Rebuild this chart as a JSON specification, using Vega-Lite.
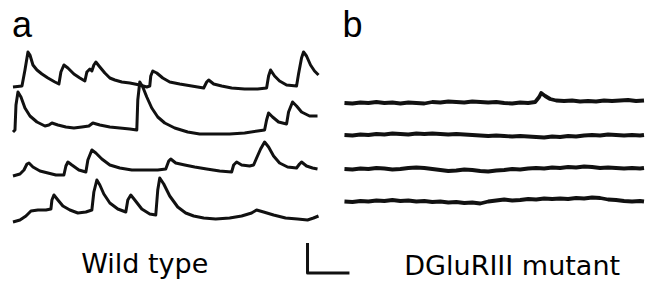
{
  "$schema": "https://vega.github.io/schema/vega-lite/v6.json",
  "width": 646,
  "height": 285,
  "autosize": {"type": "fit", "contains": "padding"},
  "padding": 0,
  "background": "white",
  "config": {"view": {"stroke": null}},
  "datasets": {
    "traces": [
      {"trace": "wt1", "t": 13, "v": 87}, {"trace": "wt1", "t": 22, "v": 86}, {"trace": "wt1", "t": 25, "v": 70}, {"trace": "wt1", "t": 28, "v": 52}, {"trace": "wt1", "t": 30, "v": 55}, {"trace": "wt1", "t": 33, "v": 65}, {"trace": "wt1", "t": 37, "v": 70}, {"trace": "wt1", "t": 42, "v": 74}, {"trace": "wt1", "t": 48, "v": 78}, {"trace": "wt1", "t": 55, "v": 82}, {"trace": "wt1", "t": 59, "v": 84}, {"trace": "wt1", "t": 61, "v": 72}, {"trace": "wt1", "t": 64, "v": 65}, {"trace": "wt1", "t": 68, "v": 68}, {"trace": "wt1", "t": 74, "v": 74}, {"trace": "wt1", "t": 80, "v": 78}, {"trace": "wt1", "t": 85, "v": 81}, {"trace": "wt1", "t": 87, "v": 72}, {"trace": "wt1", "t": 90, "v": 69}, {"trace": "wt1", "t": 92, "v": 71}, {"trace": "wt1", "t": 94, "v": 65}, {"trace": "wt1", "t": 96, "v": 62}, {"trace": "wt1", "t": 100, "v": 67}, {"trace": "wt1", "t": 105, "v": 73}, {"trace": "wt1", "t": 110, "v": 78}, {"trace": "wt1", "t": 115, "v": 80}, {"trace": "wt1", "t": 122, "v": 82}, {"trace": "wt1", "t": 130, "v": 83}, {"trace": "wt1", "t": 140, "v": 85}, {"trace": "wt1", "t": 147, "v": 87}, {"trace": "wt1", "t": 150, "v": 86}, {"trace": "wt1", "t": 151, "v": 76}, {"trace": "wt1", "t": 153, "v": 71}, {"trace": "wt1", "t": 157, "v": 73}, {"trace": "wt1", "t": 163, "v": 78}, {"trace": "wt1", "t": 170, "v": 82}, {"trace": "wt1", "t": 180, "v": 84}, {"trace": "wt1", "t": 192, "v": 86}, {"trace": "wt1", "t": 204, "v": 88}, {"trace": "wt1", "t": 207, "v": 82}, {"trace": "wt1", "t": 209, "v": 80}, {"trace": "wt1", "t": 214, "v": 84}, {"trace": "wt1", "t": 222, "v": 86}, {"trace": "wt1", "t": 232, "v": 88}, {"trace": "wt1", "t": 245, "v": 89}, {"trace": "wt1", "t": 258, "v": 89}, {"trace": "wt1", "t": 267, "v": 88}, {"trace": "wt1", "t": 269, "v": 76}, {"trace": "wt1", "t": 271, "v": 70}, {"trace": "wt1", "t": 275, "v": 76}, {"trace": "wt1", "t": 280, "v": 81}, {"trace": "wt1", "t": 287, "v": 85}, {"trace": "wt1", "t": 297, "v": 86}, {"trace": "wt1", "t": 299, "v": 74}, {"trace": "wt1", "t": 302, "v": 58}, {"trace": "wt1", "t": 304, "v": 52}, {"trace": "wt1", "t": 307, "v": 56}, {"trace": "wt1", "t": 311, "v": 65}, {"trace": "wt1", "t": 315, "v": 71}, {"trace": "wt1", "t": 319, "v": 75},

      {"trace": "wt2", "t": 13, "v": 132}, {"trace": "wt2", "t": 15, "v": 130}, {"trace": "wt2", "t": 16, "v": 105}, {"trace": "wt2", "t": 18, "v": 92}, {"trace": "wt2", "t": 21, "v": 97}, {"trace": "wt2", "t": 25, "v": 108}, {"trace": "wt2", "t": 30, "v": 116}, {"trace": "wt2", "t": 37, "v": 122}, {"trace": "wt2", "t": 45, "v": 126}, {"trace": "wt2", "t": 49, "v": 125}, {"trace": "wt2", "t": 52, "v": 123}, {"trace": "wt2", "t": 58, "v": 125}, {"trace": "wt2", "t": 66, "v": 127}, {"trace": "wt2", "t": 74, "v": 128}, {"trace": "wt2", "t": 82, "v": 127}, {"trace": "wt2", "t": 89, "v": 126}, {"trace": "wt2", "t": 93, "v": 123}, {"trace": "wt2", "t": 100, "v": 125}, {"trace": "wt2", "t": 110, "v": 127}, {"trace": "wt2", "t": 120, "v": 128}, {"trace": "wt2", "t": 130, "v": 129}, {"trace": "wt2", "t": 137, "v": 130}, {"trace": "wt2", "t": 138, "v": 100}, {"trace": "wt2", "t": 140, "v": 82}, {"trace": "wt2", "t": 143, "v": 87}, {"trace": "wt2", "t": 147, "v": 97}, {"trace": "wt2", "t": 152, "v": 108}, {"trace": "wt2", "t": 158, "v": 117}, {"trace": "wt2", "t": 165, "v": 123}, {"trace": "wt2", "t": 175, "v": 128}, {"trace": "wt2", "t": 188, "v": 132}, {"trace": "wt2", "t": 200, "v": 134}, {"trace": "wt2", "t": 215, "v": 134}, {"trace": "wt2", "t": 230, "v": 134}, {"trace": "wt2", "t": 245, "v": 133}, {"trace": "wt2", "t": 258, "v": 131}, {"trace": "wt2", "t": 265, "v": 130}, {"trace": "wt2", "t": 267, "v": 120}, {"trace": "wt2", "t": 269, "v": 113}, {"trace": "wt2", "t": 273, "v": 117}, {"trace": "wt2", "t": 279, "v": 122}, {"trace": "wt2", "t": 287, "v": 124}, {"trace": "wt2", "t": 289, "v": 112}, {"trace": "wt2", "t": 293, "v": 102}, {"trace": "wt2", "t": 297, "v": 106}, {"trace": "wt2", "t": 302, "v": 112}, {"trace": "wt2", "t": 310, "v": 116}, {"trace": "wt2", "t": 318, "v": 116},

      {"trace": "wt3", "t": 13, "v": 176}, {"trace": "wt3", "t": 20, "v": 174}, {"trace": "wt3", "t": 24, "v": 170}, {"trace": "wt3", "t": 27, "v": 164}, {"trace": "wt3", "t": 29, "v": 163}, {"trace": "wt3", "t": 33, "v": 167}, {"trace": "wt3", "t": 40, "v": 171}, {"trace": "wt3", "t": 48, "v": 173}, {"trace": "wt3", "t": 56, "v": 175}, {"trace": "wt3", "t": 64, "v": 175}, {"trace": "wt3", "t": 66, "v": 166}, {"trace": "wt3", "t": 68, "v": 162}, {"trace": "wt3", "t": 72, "v": 165}, {"trace": "wt3", "t": 79, "v": 170}, {"trace": "wt3", "t": 86, "v": 172}, {"trace": "wt3", "t": 88, "v": 160}, {"trace": "wt3", "t": 92, "v": 150}, {"trace": "wt3", "t": 96, "v": 153}, {"trace": "wt3", "t": 102, "v": 159}, {"trace": "wt3", "t": 110, "v": 165}, {"trace": "wt3", "t": 120, "v": 168}, {"trace": "wt3", "t": 132, "v": 170}, {"trace": "wt3", "t": 145, "v": 170}, {"trace": "wt3", "t": 158, "v": 170}, {"trace": "wt3", "t": 166, "v": 169}, {"trace": "wt3", "t": 169, "v": 161}, {"trace": "wt3", "t": 171, "v": 159}, {"trace": "wt3", "t": 176, "v": 163}, {"trace": "wt3", "t": 185, "v": 165}, {"trace": "wt3", "t": 195, "v": 167}, {"trace": "wt3", "t": 207, "v": 169}, {"trace": "wt3", "t": 220, "v": 171}, {"trace": "wt3", "t": 232, "v": 172}, {"trace": "wt3", "t": 234, "v": 165}, {"trace": "wt3", "t": 237, "v": 162}, {"trace": "wt3", "t": 242, "v": 165}, {"trace": "wt3", "t": 250, "v": 166}, {"trace": "wt3", "t": 254, "v": 165}, {"trace": "wt3", "t": 257, "v": 158}, {"trace": "wt3", "t": 261, "v": 149}, {"trace": "wt3", "t": 265, "v": 142}, {"trace": "wt3", "t": 269, "v": 147}, {"trace": "wt3", "t": 274, "v": 156}, {"trace": "wt3", "t": 280, "v": 163}, {"trace": "wt3", "t": 288, "v": 167}, {"trace": "wt3", "t": 297, "v": 168}, {"trace": "wt3", "t": 300, "v": 164}, {"trace": "wt3", "t": 302, "v": 162}, {"trace": "wt3", "t": 307, "v": 166}, {"trace": "wt3", "t": 313, "v": 168}, {"trace": "wt3", "t": 318, "v": 169},

      {"trace": "wt4", "t": 13, "v": 222}, {"trace": "wt4", "t": 20, "v": 220}, {"trace": "wt4", "t": 26, "v": 216}, {"trace": "wt4", "t": 31, "v": 211}, {"trace": "wt4", "t": 38, "v": 210}, {"trace": "wt4", "t": 46, "v": 210}, {"trace": "wt4", "t": 51, "v": 209}, {"trace": "wt4", "t": 52, "v": 200}, {"trace": "wt4", "t": 54, "v": 195}, {"trace": "wt4", "t": 58, "v": 200}, {"trace": "wt4", "t": 63, "v": 206}, {"trace": "wt4", "t": 70, "v": 210}, {"trace": "wt4", "t": 78, "v": 213}, {"trace": "wt4", "t": 86, "v": 212}, {"trace": "wt4", "t": 92, "v": 210}, {"trace": "wt4", "t": 94, "v": 192}, {"trace": "wt4", "t": 97, "v": 180}, {"trace": "wt4", "t": 100, "v": 185}, {"trace": "wt4", "t": 104, "v": 194}, {"trace": "wt4", "t": 110, "v": 203}, {"trace": "wt4", "t": 118, "v": 209}, {"trace": "wt4", "t": 126, "v": 212}, {"trace": "wt4", "t": 128, "v": 200}, {"trace": "wt4", "t": 131, "v": 195}, {"trace": "wt4", "t": 135, "v": 200}, {"trace": "wt4", "t": 142, "v": 209}, {"trace": "wt4", "t": 150, "v": 214}, {"trace": "wt4", "t": 156, "v": 215}, {"trace": "wt4", "t": 158, "v": 190}, {"trace": "wt4", "t": 160, "v": 178}, {"trace": "wt4", "t": 164, "v": 184}, {"trace": "wt4", "t": 170, "v": 196}, {"trace": "wt4", "t": 178, "v": 207}, {"trace": "wt4", "t": 186, "v": 213}, {"trace": "wt4", "t": 194, "v": 216}, {"trace": "wt4", "t": 204, "v": 218}, {"trace": "wt4", "t": 216, "v": 219}, {"trace": "wt4", "t": 230, "v": 218}, {"trace": "wt4", "t": 242, "v": 216}, {"trace": "wt4", "t": 252, "v": 213}, {"trace": "wt4", "t": 257, "v": 210}, {"trace": "wt4", "t": 264, "v": 212}, {"trace": "wt4", "t": 274, "v": 215}, {"trace": "wt4", "t": 286, "v": 218}, {"trace": "wt4", "t": 298, "v": 219}, {"trace": "wt4", "t": 308, "v": 220}, {"trace": "wt4", "t": 314, "v": 218}, {"trace": "wt4", "t": 319, "v": 216},

      {"trace": "scalebar", "t": 308, "v": 243}, {"trace": "scalebar", "t": 308, "v": 273}, {"trace": "scalebar", "t": 350, "v": 273}
    ],
    "mutant": [
      {"trace": "mu1", "t": 345, "v": 103}, {"trace": "mu1", "t": 353, "v": 103.5}, {"trace": "mu1", "t": 361, "v": 102.5}, {"trace": "mu1", "t": 369, "v": 103}, {"trace": "mu1", "t": 377, "v": 102}, {"trace": "mu1", "t": 385, "v": 103}, {"trace": "mu1", "t": 393, "v": 102.5}, {"trace": "mu1", "t": 401, "v": 103.5}, {"trace": "mu1", "t": 409, "v": 102.5}, {"trace": "mu1", "t": 417, "v": 103}, {"trace": "mu1", "t": 425, "v": 103.5}, {"trace": "mu1", "t": 433, "v": 102}, {"trace": "mu1", "t": 441, "v": 102.5}, {"trace": "mu1", "t": 449, "v": 101.5}, {"trace": "mu1", "t": 457, "v": 102}, {"trace": "mu1", "t": 465, "v": 102.5}, {"trace": "mu1", "t": 473, "v": 101.5}, {"trace": "mu1", "t": 481, "v": 102}, {"trace": "mu1", "t": 489, "v": 102.5}, {"trace": "mu1", "t": 497, "v": 102}, {"trace": "mu1", "t": 505, "v": 103}, {"trace": "mu1", "t": 513, "v": 103.5}, {"trace": "mu1", "t": 521, "v": 102.5}, {"trace": "mu1", "t": 529, "v": 103}, {"trace": "mu1", "t": 536, "v": 102}, {"trace": "mu1", "t": 540, "v": 97}, {"trace": "mu1", "t": 542, "v": 93}, {"trace": "mu1", "t": 546, "v": 96}, {"trace": "mu1", "t": 551, "v": 99}, {"trace": "mu1", "t": 557, "v": 100.5}, {"trace": "mu1", "t": 565, "v": 101}, {"trace": "mu1", "t": 573, "v": 100.5}, {"trace": "mu1", "t": 581, "v": 101.5}, {"trace": "mu1", "t": 589, "v": 101}, {"trace": "mu1", "t": 597, "v": 101.5}, {"trace": "mu1", "t": 605, "v": 100.5}, {"trace": "mu1", "t": 613, "v": 101}, {"trace": "mu1", "t": 621, "v": 100.5}, {"trace": "mu1", "t": 629, "v": 100}, {"trace": "mu1", "t": 637, "v": 101}, {"trace": "mu1", "t": 645, "v": 100.5},

      {"trace": "mu2", "t": 345, "v": 135}, {"trace": "mu2", "t": 353, "v": 135.5}, {"trace": "mu2", "t": 361, "v": 134.5}, {"trace": "mu2", "t": 369, "v": 135}, {"trace": "mu2", "t": 377, "v": 134}, {"trace": "mu2", "t": 385, "v": 134.5}, {"trace": "mu2", "t": 393, "v": 133.5}, {"trace": "mu2", "t": 401, "v": 134}, {"trace": "mu2", "t": 409, "v": 134.5}, {"trace": "mu2", "t": 417, "v": 133.5}, {"trace": "mu2", "t": 425, "v": 134}, {"trace": "mu2", "t": 433, "v": 133.5}, {"trace": "mu2", "t": 441, "v": 134}, {"trace": "mu2", "t": 449, "v": 134.5}, {"trace": "mu2", "t": 457, "v": 134}, {"trace": "mu2", "t": 465, "v": 134.5}, {"trace": "mu2", "t": 473, "v": 135}, {"trace": "mu2", "t": 481, "v": 135.5}, {"trace": "mu2", "t": 489, "v": 136}, {"trace": "mu2", "t": 497, "v": 135.5}, {"trace": "mu2", "t": 505, "v": 136}, {"trace": "mu2", "t": 513, "v": 136.5}, {"trace": "mu2", "t": 521, "v": 136}, {"trace": "mu2", "t": 529, "v": 136.5}, {"trace": "mu2", "t": 537, "v": 137}, {"trace": "mu2", "t": 545, "v": 137.5}, {"trace": "mu2", "t": 553, "v": 136.5}, {"trace": "mu2", "t": 561, "v": 137}, {"trace": "mu2", "t": 569, "v": 136}, {"trace": "mu2", "t": 577, "v": 136.5}, {"trace": "mu2", "t": 585, "v": 135.5}, {"trace": "mu2", "t": 593, "v": 135}, {"trace": "mu2", "t": 601, "v": 135.5}, {"trace": "mu2", "t": 609, "v": 134.5}, {"trace": "mu2", "t": 617, "v": 135}, {"trace": "mu2", "t": 625, "v": 135.5}, {"trace": "mu2", "t": 633, "v": 135}, {"trace": "mu2", "t": 641, "v": 135.5}, {"trace": "mu2", "t": 645, "v": 135},

      {"trace": "mu3", "t": 345, "v": 169}, {"trace": "mu3", "t": 353, "v": 169.5}, {"trace": "mu3", "t": 361, "v": 168.5}, {"trace": "mu3", "t": 369, "v": 169}, {"trace": "mu3", "t": 377, "v": 168}, {"trace": "mu3", "t": 385, "v": 168.5}, {"trace": "mu3", "t": 393, "v": 169.5}, {"trace": "mu3", "t": 401, "v": 169}, {"trace": "mu3", "t": 409, "v": 168}, {"trace": "mu3", "t": 417, "v": 167.5}, {"trace": "mu3", "t": 425, "v": 168}, {"trace": "mu3", "t": 433, "v": 169}, {"trace": "mu3", "t": 441, "v": 170}, {"trace": "mu3", "t": 449, "v": 171}, {"trace": "mu3", "t": 457, "v": 170.5}, {"trace": "mu3", "t": 465, "v": 169.5}, {"trace": "mu3", "t": 473, "v": 170}, {"trace": "mu3", "t": 481, "v": 171}, {"trace": "mu3", "t": 489, "v": 171.5}, {"trace": "mu3", "t": 497, "v": 170.5}, {"trace": "mu3", "t": 505, "v": 170}, {"trace": "mu3", "t": 513, "v": 169}, {"trace": "mu3", "t": 521, "v": 169.5}, {"trace": "mu3", "t": 529, "v": 168.5}, {"trace": "mu3", "t": 537, "v": 168}, {"trace": "mu3", "t": 545, "v": 168.5}, {"trace": "mu3", "t": 553, "v": 167.5}, {"trace": "mu3", "t": 561, "v": 168}, {"trace": "mu3", "t": 569, "v": 167}, {"trace": "mu3", "t": 577, "v": 167.5}, {"trace": "mu3", "t": 585, "v": 166.5}, {"trace": "mu3", "t": 593, "v": 167}, {"trace": "mu3", "t": 601, "v": 168}, {"trace": "mu3", "t": 609, "v": 167.5}, {"trace": "mu3", "t": 617, "v": 168}, {"trace": "mu3", "t": 625, "v": 168.5}, {"trace": "mu3", "t": 633, "v": 168}, {"trace": "mu3", "t": 641, "v": 168.5}, {"trace": "mu3", "t": 645, "v": 168},

      {"trace": "mu4", "t": 345, "v": 201.5}, {"trace": "mu4", "t": 353, "v": 202}, {"trace": "mu4", "t": 361, "v": 201}, {"trace": "mu4", "t": 369, "v": 201.5}, {"trace": "mu4", "t": 377, "v": 200.5}, {"trace": "mu4", "t": 385, "v": 201}, {"trace": "mu4", "t": 393, "v": 200}, {"trace": "mu4", "t": 401, "v": 201}, {"trace": "mu4", "t": 409, "v": 200.5}, {"trace": "mu4", "t": 417, "v": 201.5}, {"trace": "mu4", "t": 425, "v": 201}, {"trace": "mu4", "t": 433, "v": 202}, {"trace": "mu4", "t": 441, "v": 201.5}, {"trace": "mu4", "t": 449, "v": 202.5}, {"trace": "mu4", "t": 457, "v": 202}, {"trace": "mu4", "t": 465, "v": 203}, {"trace": "mu4", "t": 473, "v": 202.5}, {"trace": "mu4", "t": 481, "v": 203.5}, {"trace": "mu4", "t": 489, "v": 201.5}, {"trace": "mu4", "t": 497, "v": 200.5}, {"trace": "mu4", "t": 505, "v": 199.5}, {"trace": "mu4", "t": 513, "v": 200.5}, {"trace": "mu4", "t": 521, "v": 200}, {"trace": "mu4", "t": 529, "v": 199}, {"trace": "mu4", "t": 537, "v": 199.5}, {"trace": "mu4", "t": 545, "v": 198.5}, {"trace": "mu4", "t": 553, "v": 199}, {"trace": "mu4", "t": 561, "v": 198.5}, {"trace": "mu4", "t": 569, "v": 199}, {"trace": "mu4", "t": 577, "v": 198}, {"trace": "mu4", "t": 585, "v": 198.5}, {"trace": "mu4", "t": 593, "v": 197.5}, {"trace": "mu4", "t": 601, "v": 198}, {"trace": "mu4", "t": 609, "v": 199.5}, {"trace": "mu4", "t": 617, "v": 200}, {"trace": "mu4", "t": 625, "v": 201}, {"trace": "mu4", "t": 633, "v": 201.5}, {"trace": "mu4", "t": 641, "v": 201}, {"trace": "mu4", "t": 645, "v": 201.5}
    ],
    "labels": [
      {"label": "a", "t": 12, "v": 37, "kind": "panel"},
      {"label": "b", "t": 343, "v": 37, "kind": "panel"},
      {"label": "Wild type", "t": 145, "v": 273, "kind": "caption"},
      {"label": "DGluRIII mutant", "t": 513, "v": 275, "kind": "caption"}
    ]
  },
  "layer": [
    {
      "data": {"name": "traces"},
      "mark": {"type": "line", "color": "#111111", "strokeWidth": 3, "strokeJoin": "round", "strokeCap": "butt"},
      "encoding": {
        "x": {"field": "t", "type": "quantitative", "scale": {"domain": [0, 646], "nice": false, "zero": false}, "axis": null},
        "y": {"field": "v", "type": "quantitative", "scale": {"domain": [285, 0], "nice": false, "zero": false}, "axis": null},
        "detail": {"field": "trace", "type": "nominal"},
        "order": {"value": null}
      }
    },
    {
      "data": {"name": "mutant"},
      "mark": {"type": "line", "color": "#111111", "strokeWidth": 3.8, "strokeJoin": "round", "strokeCap": "butt"},
      "encoding": {
        "x": {"field": "t", "type": "quantitative"},
        "y": {"field": "v", "type": "quantitative"},
        "detail": {"field": "trace", "type": "nominal"},
        "order": {"value": null}
      }
    },
    {
      "data": {"name": "labels"},
      "transform": [{"filter": "datum.kind === 'panel'"}],
      "mark": {"type": "text", "font": "Liberation Sans", "fontSize": 36, "align": "left", "baseline": "alphabetic", "color": "#000000"},
      "encoding": {
        "x": {"field": "t", "type": "quantitative"},
        "y": {"field": "v", "type": "quantitative"},
        "text": {"field": "label"}
      }
    },
    {
      "data": {"name": "labels"},
      "transform": [{"filter": "datum.kind === 'caption'"}],
      "mark": {"type": "text", "font": "DejaVu Sans", "fontSize": 27, "align": "center", "baseline": "alphabetic", "color": "#000000"},
      "encoding": {
        "x": {"field": "t", "type": "quantitative"},
        "y": {"field": "v", "type": "quantitative"},
        "text": {"field": "label"}
      }
    }
  ]
}
